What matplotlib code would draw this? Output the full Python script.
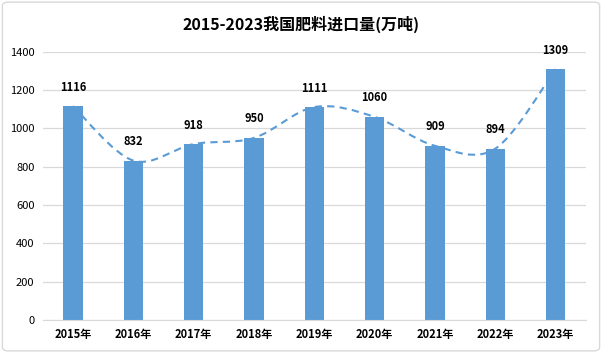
import matplotlib
matplotlib.use("Agg")
import matplotlib.pyplot as plt
from matplotlib.path import Path
from matplotlib.patches import PathPatch, FancyBboxPatch
import numpy as np

plt.rcParams['font.family'] = ['Noto Sans CJK SC', 'DejaVu Sans']

years = ['2015年', '2016年', '2017年', '2018年', '2019年', '2020年', '2021年', '2022年', '2023年']
values = [1116, 832, 918, 950, 1111, 1060, 909, 894, 1309]
title = '2015-2023我国肥料进口量(万吨)'
yticks = [0, 200, 400, 600, 800, 1000, 1200, 1400]

fig = plt.figure(figsize=(6.02, 3.53), dpi=100)
ax = fig.add_axes([0.071, 0.0935, 0.902, 0.76])

x = np.arange(len(years))
color = '#5b9bd5'
ax.bar(x, values, width=0.32, color=color, zorder=2)

# smooth (Catmull-Rom style) dashed curve through bar tops
pts = np.column_stack([x, values]).astype(float)
verts = [tuple(pts[0])]
codes = [Path.MOVETO]
n = len(pts)
for i in range(n - 1):
    p0 = pts[i - 1] if i > 0 else pts[i]
    p1 = pts[i]
    p2 = pts[i + 1]
    p3 = pts[i + 2] if i + 2 < n else pts[i + 1]
    c1 = p1 + (p2 - p0) / 6.0
    c2 = p2 - (p3 - p1) / 6.0
    verts += [tuple(c1), tuple(c2), tuple(p2)]
    codes += [Path.CURVE4] * 3
ax.add_patch(PathPatch(Path(verts, codes), fill=False, edgecolor='#5b9bd5',
                       lw=1.5, ls=(0, (3.5, 2.5)), zorder=3))

for xi, v in zip(x, values):
    ax.annotate(str(v), (xi, v), xytext=(0, 9), textcoords='offset points',
                ha='center', va='bottom', fontsize=8, fontweight='bold', color='#000000', zorder=4)

ax.set_xlim(-0.5, len(years) - 0.5)
ax.set_ylim(0, 1400)
ax.set_yticks(yticks)
ax.set_yticklabels([str(t) for t in yticks], fontsize=8, color='#000000')
ax.set_xticks(x)
ax.set_xticklabels(years, fontsize=8, fontweight='bold', color='#000000')
ax.tick_params(length=0, pad=6)
ax.yaxis.grid(True, color='#d9d9d9', lw=0.9, zorder=0)
ax.set_axisbelow(True)
for s in ['top', 'right', 'left']:
    ax.spines[s].set_visible(False)
ax.spines['bottom'].set_color('#d9d9d9')

fig.text(0.5, 0.93, title, ha='center', va='center', fontsize=11.5, fontweight='bold', color='#000000')

fig.patches.append(FancyBboxPatch((0.004, 0.006), 0.992, 0.988, boxstyle='round,pad=0,rounding_size=0.01',
                                  transform=fig.transFigure, fill=False, edgecolor='#d9d9d9', lw=1))

fig.savefig('out.png', dpi=100)
